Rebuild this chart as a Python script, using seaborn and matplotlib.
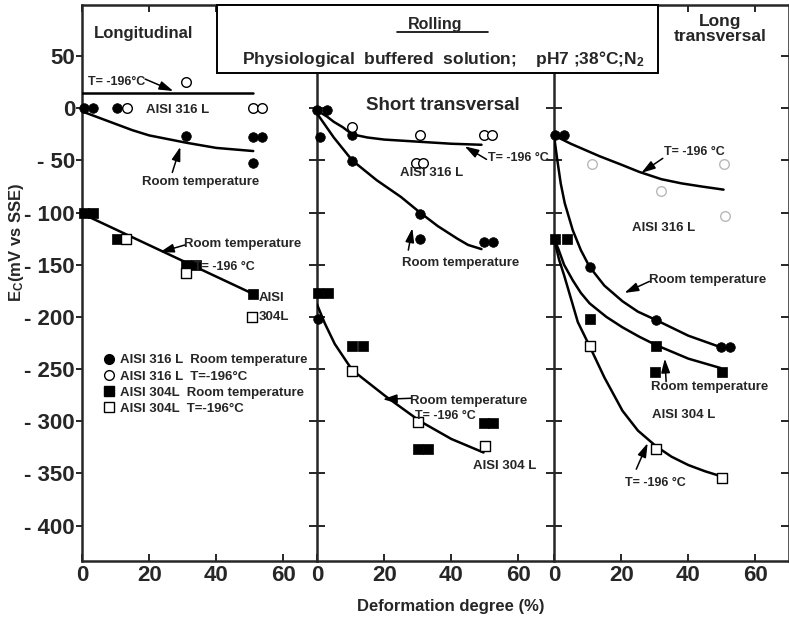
import matplotlib
matplotlib.use("Agg")
import numpy as np
import pandas as pd
import matplotlib.pyplot as plt
import seaborn as sns
from matplotlib.patches import Rectangle
from matplotlib.lines import Line2D

# ---------------- data ----------------
panel_names = ["Longitudinal", "Short transversal", "Long transversal"]
y_ticks = [50, 0, -50, -100, -150, -200, -250, -300, -350, -400]
y_tick_labels = ["50", "0", "- 50", "- 100", "- 150", "- 200", "- 250", "- 300", "- 350", "- 400"]
x_ticks = [0, 20, 40, 60]
x_tick_labels = ["0", "20", "40", "60"]

# Longitudinal
lon_316_rt_x = [0.6, 3.3, 10.4, 31, 51, 53.7, 51]
lon_316_rt_y = [0, 0, 0, -27, -28, -28, -52]
lon_316_cold_x = [13.4, 31, 51, 53.5]
lon_316_cold_y = [0, 25, 0, 0]
lon_304_rt_x = [0.6, 3.3, 10.4, 31, 34, 51]
lon_304_rt_y = [-100, -100, -125, -150, -150, -178]
lon_304_cold_x = [13, 31, 50.5]
lon_304_cold_y = [-125, -158, -200]
lon_c316_cold_x = [0, 51]
lon_c316_cold_y = [15, 15]
lon_c316_rt_x = [0, 10, 15, 20, 31, 40, 51]
lon_c316_rt_y = [-3, -15, -21, -26, -33, -38, -41]
lon_c304_x = [0, 51]
lon_c304_y = [-101, -178]

# Short transversal
sht_316_rt_x = [0, 3, 1, 10.5, 10.5, 30.7, 30.7, 49.6, 52.3, 0.3]
sht_316_rt_y = [-2, -2, -28, -26, -51, -101, -125, -128, -128, -202]
sht_316_cold_x = [10.5, 30.7, 49.8, 52, 29.5, 31.5]
sht_316_cold_y = [-18, -26, -26, -26, -52, -52]
sht_304_rt_x = [0.3, 3.2, 10.3, 13.6, 30.1, 33, 49.6, 52.5]
sht_304_rt_y = [-177, -177, -228, -228, -327, -327, -302, -302]
sht_304_cold_x = [10.5, 30.1, 50]
sht_304_cold_y = [-252, -301, -324]
sht_c316_cold_x = [0, 3, 5, 7.6, 10.5, 15, 20, 30, 40, 49]
sht_c316_cold_y = [-2, -8, -13, -18, -25, -28, -30, -32, -34, -35]
sht_c316_rt_x = [0, 5, 10.5, 17.8, 25, 30.7, 36, 41.8, 45, 49]
sht_c316_rt_y = [-5, -28, -50, -69, -85, -100, -113, -125, -131, -135]
sht_c304_x = [0, 2.3, 5.3, 10.5, 20.4, 30.7, 40, 49.6]
sht_c304_y = [-188, -206, -226, -251, -276, -300, -317, -330]

# Long transversal
lgt_316_rt_x = [0.3, 2.9, 10.6, 30.4, 49.6, 52.3]
lgt_316_rt_y = [-26, -26, -152, -203, -229, -229]
lgt_316_cold_x = [11.2, 31.9, 50.5, 51]
lgt_316_cold_y = [-53, -79, -53, -103]
lgt_304_rt_x = [0.3, 3.8, 10.6, 30.4, 30.2, 49.9]
lgt_304_rt_y = [-125, -125, -202, -228, -253, -253]
lgt_304_cold_x = [10.6, 30.4, 50]
lgt_304_cold_y = [-228, -327, -354]
lgt_c316_cold_x = [0, 5, 13.6, 20, 25.4, 32, 38, 44, 50.5]
lgt_c316_cold_y = [-26, -34, -46, -54, -61, -68, -72, -75, -78]
lgt_c316_rt_x = [0, 1, 2, 3.2, 5.6, 8, 10.6, 15, 20.4, 25, 30.4, 40, 49.6]
lgt_c316_rt_y = [-26, -50, -72, -91, -117, -136, -152, -170, -185, -195, -203, -218, -229]
lgt_c304_rt_x = [0, 1.2, 3, 5.6, 8, 10.6, 15.6, 20.4, 25.4, 30.4, 40, 49.6]
lgt_c304_rt_y = [-125, -134, -150, -165, -177, -187, -200, -210, -219, -227, -240, -249]
lgt_c304_cold_x = [0, 1.5, 3, 4.1, 7.1, 10.6, 15, 20.4, 25, 30.4, 35, 40, 45, 50]
lgt_c304_cold_y = [-125, -145, -160, -172, -205, -228, -258, -290, -309, -324, -334, -342, -348, -353]

legend_labels = ["AISI 316 L  Room temperature", "AISI 316 L  T=-196\u00b0C",
                 "AISI 304L  Room temperature", "AISI 304L  T=-196\u00b0C"]

# ---------------- style ----------------
sns.set_style("ticks")
plt.rcParams["font.family"] = ["Liberation Sans", "DejaVu Sans"]
plt.rcParams["font.weight"] = "bold"
plt.rcParams["mathtext.fontset"] = "custom"
plt.rcParams["mathtext.rm"] = "Liberation Sans:bold"
plt.rcParams["mathtext.bf"] = "Liberation Sans:bold"
plt.rcParams["mathtext.default"] = "bf"

W, H = 789, 620
fig = plt.figure(figsize=(W / 100, H / 100), dpi=100)

lefts = [82, 317, 554]
pw = 235
bottom = 1 - 561 / H
height = (561 - 5) / H
axes = [fig.add_axes([l / W, bottom, pw / W, height]) for l in lefts]

LW = 1.8
MS_C = 48
MS_S = 55
ANN = 9.5


def pts(ax, x, y, marker, filled, faint=False):
    df = pd.DataFrame({"x": x, "y": y})
    size = MS_S if marker == "s" else MS_C
    if filled:
        sns.scatterplot(data=df, x="x", y="y", ax=ax, marker=marker, s=size,
                        color="black", edgecolor="black", linewidth=0.5, clip_on=False, zorder=4)
    else:
        ec = "#b8b8b8" if faint else "black"
        sns.scatterplot(data=df, x="x", y="y", ax=ax, marker=marker, s=size,
                        color="white", edgecolor=ec, linewidth=1.0, clip_on=False, zorder=4)


def curve(ax, x, y):
    df = pd.DataFrame({"x": x, "y": y})
    sns.lineplot(data=df, x="x", y="y", ax=ax, color="black", lw=LW, sort=False,
                 estimator=None, zorder=3)


def arrow(ax, tail, head):
    ax.annotate("", xy=head, xytext=tail,
                arrowprops=dict(arrowstyle="-|>,head_length=0.7,head_width=0.22", color="black",
                                lw=1.1, mutation_scale=12, shrinkA=0, shrinkB=0))


def label(ax, x, y, s, size=ANN, ha="center"):
    ax.text(x, y, s, fontsize=size, fontweight="bold", ha=ha, va="center", zorder=5)


# panel 1
ax = axes[0]
curve(ax, lon_c316_cold_x, lon_c316_cold_y)
curve(ax, lon_c316_rt_x, lon_c316_rt_y)
curve(ax, lon_c304_x, lon_c304_y)
pts(ax, lon_316_rt_x, lon_316_rt_y, "o", True)
pts(ax, lon_316_cold_x, lon_316_cold_y, "o", False)
pts(ax, lon_304_rt_x, lon_304_rt_y, "s", True)
pts(ax, lon_304_cold_x, lon_304_cold_y, "s", False)

# panel 2
ax = axes[1]
curve(ax, sht_c316_cold_x, sht_c316_cold_y)
curve(ax, sht_c316_rt_x, sht_c316_rt_y)
curve(ax, sht_c304_x, sht_c304_y)
pts(ax, sht_316_rt_x, sht_316_rt_y, "o", True)
pts(ax, sht_316_cold_x, sht_316_cold_y, "o", False)
pts(ax, sht_304_rt_x, sht_304_rt_y, "s", True)
pts(ax, sht_304_cold_x, sht_304_cold_y, "s", False)

# panel 3
ax = axes[2]
curve(ax, lgt_c316_cold_x, lgt_c316_cold_y)
curve(ax, lgt_c316_rt_x, lgt_c316_rt_y)
curve(ax, lgt_c304_rt_x, lgt_c304_rt_y)
curve(ax, lgt_c304_cold_x, lgt_c304_cold_y)
pts(ax, lgt_316_rt_x, lgt_316_rt_y, "o", True)
pts(ax, lgt_316_cold_x, lgt_316_cold_y, "o", False, faint=True)
pts(ax, lgt_304_rt_x, lgt_304_rt_y, "s", True)
pts(ax, lgt_304_cold_x, lgt_304_cold_y, "s", False)

for i, ax in enumerate(axes):
    ax.set_xlim(0, 70)
    ax.set_ylim(-434, 99)
    ax.set_xlabel("")
    ax.set_ylabel("")
    for sp in ax.spines.values():
        sp.set_linewidth(LW)
        sp.set_visible(True)
    ax.set_xticks(x_ticks)
    ax.set_xticklabels(x_tick_labels, fontsize=16, fontweight="bold")
    ax.tick_params(axis="x", which="both", direction="in", length=5, width=1.4,
                   top=True, bottom=True, pad=3)
    ax.set_yticks(y_ticks)
    if i == 0:
        ax.set_yticklabels(y_tick_labels, fontsize=16, fontweight="bold")
        ax.tick_params(axis="y", direction="out", length=4, width=1.4, pad=1)
        ax.spines["right"].set_visible(False)
    else:
        ax.set_yticklabels([])
        ax.tick_params(axis="y", direction="inout", length=11, width=1.4, right=(i == 2))
        if i == 1:
            ax.spines["right"].set_visible(False)

# ---- panel texts / annotations ----
ax = axes[0]
label(ax, 3.6, 72, "Longitudinal", size=12, ha="left")
label(ax, 1.8, 25, "T= -196\u00b0C", size=9, ha="left")
arrow(ax, (18.8, 28), (27.2, 16.5))
label(ax, 28.4, -2, "AISI 316 L")
label(ax, 35.2, -71, "Room temperature")
arrow(ax, (26.9, -61.5), (29.3, -37))
label(ax, 47.8, -130, "Room temperature")
arrow(ax, (30.7, -131), (23.2, -138))
label(ax, 42.3, -152, "T= -196 \u00b0C", size=9)
label(ax, 52.5, -182, "AISI", ha="left")
label(ax, 52.5, -200, "304L", ha="left")
handles = [
    Line2D([], [], ls="", marker="o", ms=7, mfc="black", mec="black"),
    Line2D([], [], ls="", marker="o", ms=7, mfc="white", mec="black", mew=1),
    Line2D([], [], ls="", marker="s", ms=7, mfc="black", mec="black"),
    Line2D([], [], ls="", marker="s", ms=7, mfc="white", mec="black", mew=1),
]
ax.legend(handles, legend_labels, loc="upper left", bbox_to_anchor=(0.085, 0.372),
          frameon=False, handlelength=1.0, handletextpad=0.4, borderpad=0, borderaxespad=0,
          labelspacing=0.3, prop={"size": 9.5, "weight": "bold"})

ax = axes[1]
label(ax, 37.4, 3, "Short transversal", size=13.5)
label(ax, 34.2, -62.5, "AISI 316 L")
label(ax, 50.8, -48, "T= -196 \u00b0C", size=9, ha="left")
arrow(ax, (50.5, -49), (44, -36.5))
label(ax, 42.7, -148, "Room temperature")
arrow(ax, (27.2, -136), (28.4, -115))
label(ax, 45.1, -281, "Room temperature")
arrow(ax, (28, -278), (19.6, -279))
label(ax, 38.3, -295, "T= -196 \u00b0C", size=9)
label(ax, 55.9, -343, "AISI 304 L")

ax = axes[2]
ax.text(49.6, 76, "Long\ntransversal", fontsize=12.5, fontweight="bold", ha="center",
        va="center", linespacing=1.0)
label(ax, 32.8, -42, "T= -196 \u00b0C", size=9, ha="left")
arrow(ax, (32.4, -48), (26, -62))
label(ax, 32.8, -115, "AISI 316 L")
label(ax, 45.8, -165, "Room temperature")
arrow(ax, (28.4, -166), (21, -177))
label(ax, 46.4, -267, "Room temperature")
arrow(ax, (33.4, -262), (33.0, -240))
label(ax, 38.7, -294, "AISI 304 L")
label(ax, 30.1, -359, "T= -196 \u00b0C", size=9)
arrow(ax, (24.5, -346), (27.9, -321))

# ---- title box ----
x0, x1 = 217 / W, 658 / W
y0, y1 = 1 - 73 / H, 1 - 5 / H
fig.add_artist(Rectangle((x0, y0), x1 - x0, y1 - y0, transform=fig.transFigure,
                         facecolor="white", edgecolor="black", lw=1.4, zorder=10))
fig.text(435 / W, 1 - 24 / H, "Rolling", fontsize=11.5, fontweight="bold",
         ha="center", va="center", zorder=11)
fig.add_artist(Line2D([397 / W, 488 / W], [1 - 32 / H, 1 - 32 / H], transform=fig.transFigure,
                      color="black", lw=1.2, zorder=11))
fig.text(443 / W, 1 - 59 / H, "Physiological  buffered  solution;    pH7 ;38\u00b0C;N$_2$",
         fontsize=12.5, fontweight="bold", ha="center", va="center", zorder=11)

# axis labels
fig.text(17 / W, 1 - 242 / H, "E$_C$(mV vs SSE)", rotation=90, fontsize=12,
         fontweight="bold", ha="center", va="center")
fig.text(451 / W, 1 - 607 / H, "Deformation degree (%)", fontsize=12, fontweight="bold",
         ha="center", va="center")

fig.savefig("out.png", dpi=100)
